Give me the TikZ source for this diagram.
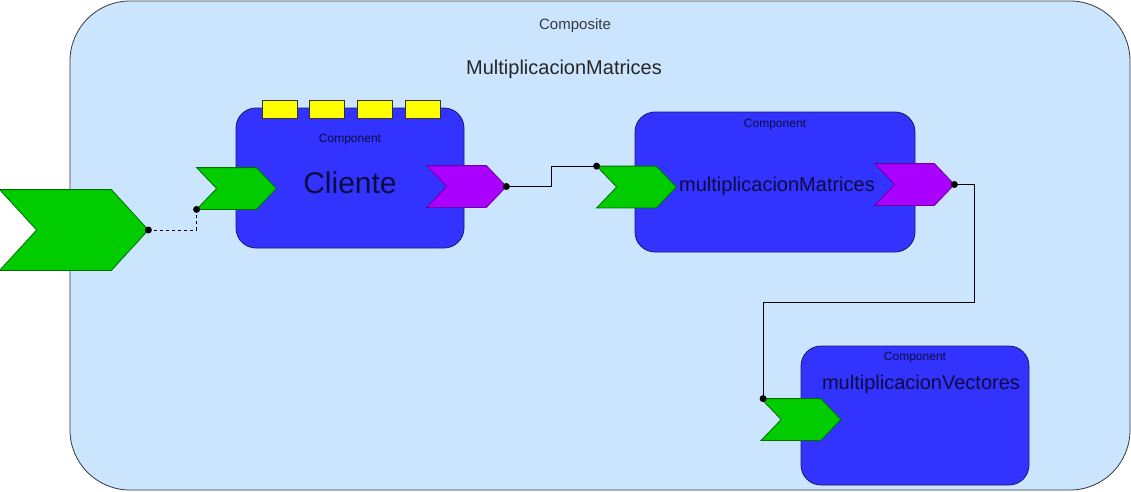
\documentclass[tikz,border=0pt]{standalone}
\usepackage{fontspec}
\setmainfont{Liberation Sans}
\usetikzlibrary{positioning}
\definecolor{compfill}{HTML}{CCE5FF}
\definecolor{compdraw}{HTML}{36393D}
\definecolor{boxfill}{HTML}{3333FF}
\definecolor{boxdraw}{HTML}{1A1A66}
\definecolor{boxtext}{HTML}{0C0C40}
\definecolor{ingreen}{HTML}{00CC00}
\definecolor{ingreendraw}{HTML}{007000}
\definecolor{outpurple}{HTML}{AA00FF}
\definecolor{outpurpledraw}{HTML}{6A00A0}
\definecolor{tagyellow}{HTML}{FFFF00}
\newcommand*{\myfs}[1]{\fontsize{#1}{#1}\selectfont}
\newcommand*{\chev}[2]{(#1.north west) -- ([xshift=-#2]#1.north east) -- (#1.east)
  -- ([xshift=-#2]#1.south east) -- (#1.south west) -- ([xshift=#2]#1.west) -- cycle}

\begin{document}
\begin{tikzpicture}[x=1pt,y=-1pt,line width=0.8pt,
      every node/.style={inner sep=0pt},
      composite/.style={draw=compdraw, fill=compfill, rounded corners=60pt,
        minimum width=1060pt, minimum height=489pt},
      component/.style={draw=boxdraw, fill=boxfill, rounded corners=20pt, minimum height=140pt},
      port/.style={minimum width=79pt, minimum height=41pt},
      tag/.style={draw=black!80, fill=tagyellow, minimum width=35pt, minimum height=18pt},
      dot/.style={circle, fill=black, minimum size=7pt}]
      \useasboundingbox (0,0) rectangle (1131,491);
      \node[composite] (comp) at (600,245.5) {};
      \node[text=compdraw] (comp_t) at (575,26) {\myfs{15}Composite};
      \node[text=black!85] (comp_n) at (564,69) {\myfs{20}MultiplicacionMatrices};

      \node[component, minimum width=228pt] (cli) at (350,178) {};
      \node[component, minimum width=280pt] (mat) at (775,182) {};
      \node[component, minimum width=228pt, minimum height=139pt] (vec) at (915,415.5) {};
      \foreach \x in {280,327,375,423}
        \node[tag] at (\x,109) {};

      \node[text=boxtext, below=26.5pt of cli.north] (cli_c) {\myfs{12}Component};
      \node[text=boxtext, below=7.5pt of mat.north] (mat_c) {\myfs{12}Component};
      \node[text=boxtext, below=6.5pt of vec.north] (vec_c) {\myfs{12}Component};
      \node[text=boxtext] (cli_t) at (350,183) {\myfs{30}Cliente};
      \node[text=boxtext] (mat_t) at (777,186.5) {\myfs{20}multiplicacionMatrices};
      \node[text=boxtext] (vec_t) at (921,384.5) {\myfs{20}multiplicacionVectores};

      % ports
      \node[minimum width=148pt, minimum height=80pt] (p_ext) at (74,230) {};
      \node[port] (p_cin) at (236.5,188.5) {};
      \node[port] (p_cout) at (466.5,186.5) {};
      \node[port] (p_min) at (636.5,187) {};
      \node[port] (p_mout) at (914.5,184.5) {};
      \node[port] (p_vin) at (801,419.5) {};
      \filldraw[fill=ingreen, draw=ingreendraw] \chev{p_ext}{37pt};
      \filldraw[fill=ingreen, draw=ingreendraw] \chev{p_cin}{20pt};
      \filldraw[fill=outpurple, draw=outpurpledraw] \chev{p_cout}{20pt};
      \filldraw[fill=ingreen, draw=ingreendraw] \chev{p_min}{20pt};
      \filldraw[fill=outpurple, draw=outpurpledraw] \chev{p_mout}{20pt};
      \filldraw[fill=ingreen, draw=ingreendraw] \chev{p_vin}{20pt};

      % wires
      \draw[dashed] (p_ext.east) -| (p_cin.south west);
      \draw (p_cout.east) -- ++(45,0) |- (p_min.north west);
      \draw (p_mout.east) -- ++(20,0) -- ++(0,118) -| ([xshift=2pt]p_vin.north west);
      \foreach \p in {p_ext.east, p_cin.south west, p_cout.east, p_min.north west, p_mout.east}
        \node[dot] at (\p) {};
      \node[dot] at ([xshift=2pt]p_vin.north west) {};
    \end{tikzpicture}
\end{document}
